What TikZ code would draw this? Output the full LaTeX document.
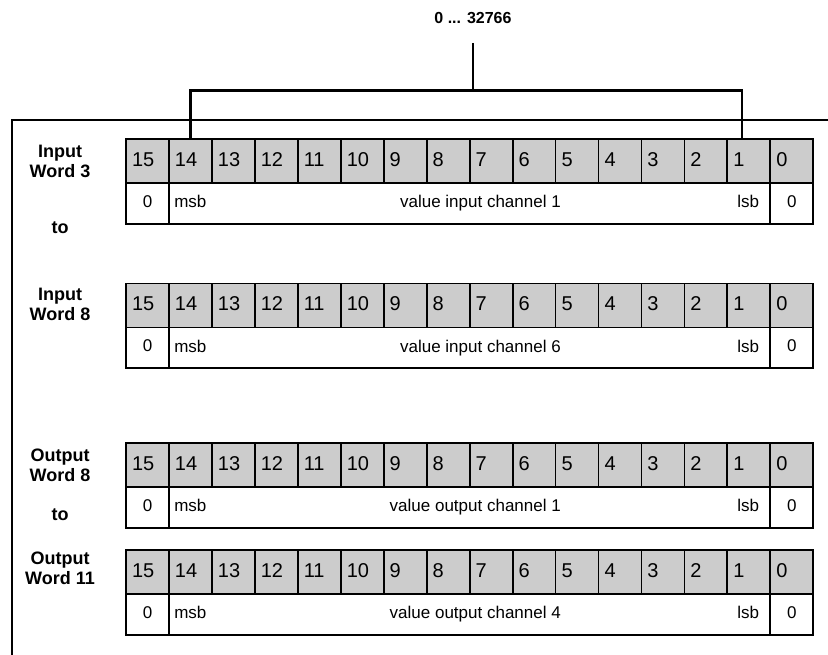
\documentclass[tikz,border=0pt]{standalone}
\usepackage{fontspec}
\setmainfont{Liberation Sans}
\begin{document}
\begin{tikzpicture}[x=1pt,y=-1pt,
  cellbox/.style={draw, line width=1.8pt, fill=black!20, minimum width=42.956pt,
    minimum height=44pt, inner sep=0pt, text width=30.956pt, align=left,
    font=\fontsize{20}{22}\selectfont, text depth=3.4pt},
  zbox/.style={draw, line width=1.8pt, fill=white, minimum width=42.956pt,
    minimum height=40.7pt, inner sep=0pt, font=\fontsize{17}{19}\selectfont,
    text depth=4.2pt},
  midbox/.style={draw, line width=1.8pt, fill=white, minimum width=601.384pt,
    minimum height=40.7pt, inner sep=0pt},
  wtext/.style={inner sep=0pt, font=\fontsize{17}{19}\selectfont},
  lbl/.style={inner sep=0pt, align=center, font=\bfseries\fontsize{18}{20}\selectfont},
  toplbl/.style={inner sep=0pt, font=\bfseries\fontsize{16}{18}\selectfont},
  heavy/.style={line width=2.6pt}
]
\useasboundingbox (0,0) rectangle (828,655);

% frame
\coordinate (fb) at (12,655);
\coordinate (fc) at (12,120);
\coordinate (fr) at (828,120);
\draw[heavy] (fb) -- (fc) -- (fr);

% registers
\foreach \b/\T/\val in {1/139/input channel 1, 2/283.5/input channel 6,
                         3/443/output channel 1, 4/550/output channel 4}{
  \foreach \i in {0,...,15}{
    \node[cellbox] (g\b-\i) at ({126+(15-\i+0.5)*42.956},{\T+22}) {\i};
  }
  \node[zbox] (zl\b) at ({126+0.5*42.956},{\T+64.35}) {0};
  \node[midbox] (m\b) at ({126+8*42.956},{\T+64.35}) {};
  \node[zbox] (zr\b) at ({126+15.5*42.956},{\T+64.35}) {0};
  \node[wtext, anchor=base west] (msb\b) at ([xshift=6pt,yshift=-4.3pt]m\b.west) {msb};
  \node[wtext, anchor=base east] (lsb\b) at ([xshift=-12pt,yshift=-4.3pt]m\b.east) {lsb};
  \node[wtext, anchor=base east] (val\b) at (561,{\T+68.65}) {value \val};
}

% labels
\node[lbl] (lab1) at (60,161.7) {Input\\Word 3};
\node[lbl] (to1) at (60,228) {to};
\node[lbl] (lab2) at (60,304.2) {Input\\Word 8};
\node[lbl] (lab3) at (60,465) {Output\\Word 8};
\node[lbl] (to2) at (60,514.3) {to};
\node[lbl] (lab4) at (60,568.7) {Output\\Word 11};

% range bracket
\node[toplbl] (range) at (473,18) {0 ... 32766};
\coordinate (stem) at (473,43);
\coordinate (bt) at (473,90.5);
\coordinate (rleg) at ([xshift=-7pt]g1-1.north);
\draw[heavy] (stem) -- (bt);
\draw[heavy] (g1-14.north) -- (g1-14.north |- bt) -- (rleg |- bt) -- (rleg);
\end{tikzpicture}
\end{document}
